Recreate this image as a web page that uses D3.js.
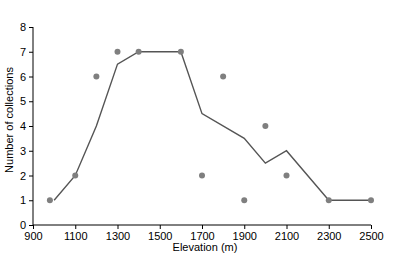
<!DOCTYPE html>
<html>
<head>
<meta charset="utf-8">
<script src="https://cdn.jsdelivr.net/npm/d3@7"></script>
<style>
  body { margin: 0; background: #fff; }
  text { font-family: "Liberation Sans", Arial, sans-serif; }
</style>
</head>
<body>
<div id="chart"></div>
<script>
// observed collections (dots)
const pointElev = [980, 1100, 1200, 1300, 1400, 1600, 1700, 1800, 1900, 2000, 2100, 2300, 2500];
const pointCount = [1, 2, 6, 7, 7, 7, 2, 6, 1, 4, 2, 1, 1];
// smoothed line
const lineElev = [1000, 1100, 1200, 1300, 1400, 1600, 1700, 1900, 2000, 2100, 2300, 2500];
const lineCount = [1, 2, 4, 6.5, 7, 7, 4.5, 3.5, 2.5, 3, 1, 1];
const xTicks = [900, 1100, 1300, 1500, 1700, 1900, 2100, 2300, 2500];
const yTicks = [0, 1, 2, 3, 4, 5, 6, 7, 8];

const width = 407, height = 259;
const margin = {top: 27, right: 36, bottom: 34, left: 33};

const svg = d3.select('#chart').append('svg')
    .attr('width', width)
    .attr('height', height);

const x = d3.scaleLinear().domain([900, 2500]).range([margin.left, width - margin.right]);
const y = d3.scaleLinear().domain([0, 8]).range([height - margin.bottom, margin.top]);

// axes
const xAxis = svg.append('g')
    .attr('transform', `translate(0,${height - margin.bottom})`)
    .call(d3.axisBottom(x).tickValues(xTicks).tickSize(4).tickPadding(3).tickFormat(d3.format('d')));
const yAxis = svg.append('g')
    .attr('transform', `translate(${margin.left},0)`)
    .call(d3.axisLeft(y).tickValues(yTicks).tickSize(4).tickPadding(3));

[xAxis, yAxis].forEach(a => {
    a.select('.domain').attr('stroke', '#000').attr('stroke-width', 1);
    a.selectAll('.tick line').attr('stroke', '#000');
    a.selectAll('.tick text').attr('font-size', 11).attr('fill', '#000')
        .attr('font-family', '"Liberation Sans", Arial, sans-serif');
});
// axis domain lines without end caps
xAxis.select('.domain').attr('d', `M${x(900)},0H${x(2500)}`);
yAxis.select('.domain').attr('d', `M0,${y(0)}V${y(8)}`);

// line
const lineData = lineElev.map((e, i) => [e, lineCount[i]]);
svg.append('path')
    .datum(lineData)
    .attr('fill', 'none')
    .attr('stroke', '#555')
    .attr('stroke-width', 1.4)
    .attr('d', d3.line().x(d => x(d[0])).y(d => y(d[1])));

// dots
svg.append('g').selectAll('circle')
    .data(pointElev.map((e, i) => [e, pointCount[i]]))
    .join('circle')
    .attr('cx', d => x(d[0]))
    .attr('cy', d => y(d[1]))
    .attr('r', 3)
    .attr('fill', '#7f7f7f');

// axis titles
svg.append('text')
    .attr('x', 205)
    .attr('y', 251)
    .attr('text-anchor', 'middle')
    .attr('font-size', 11)
    .text('Elevation (m)');

svg.append('text')
    .attr('transform', `translate(13,120) rotate(-90)`)
    .attr('text-anchor', 'middle')
    .attr('font-size', 11)
    .text('Number of collections');
</script>
</body>
</html>
